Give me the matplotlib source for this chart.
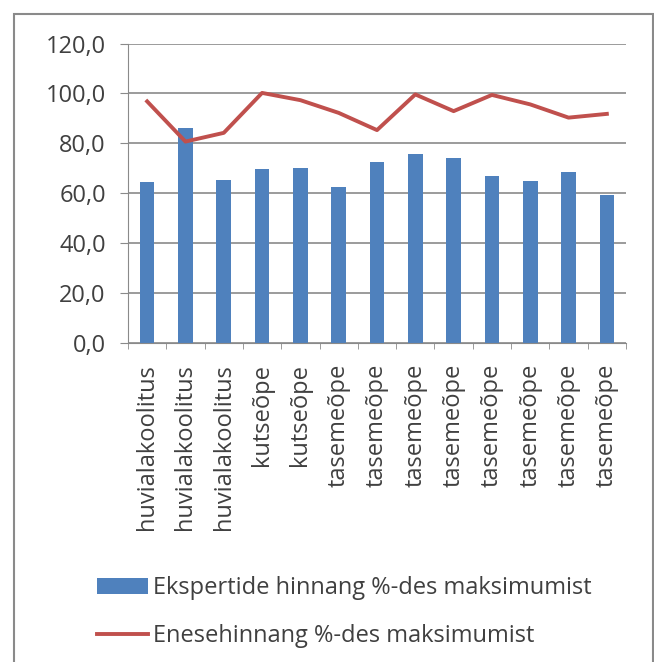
import numpy as np
import matplotlib
matplotlib.use("Agg")
import matplotlib.pyplot as plt
from matplotlib.patches import Rectangle

# andmed
kategooriad = ["huvialakoolitus", "huvialakoolitus", "huvialakoolitus",
               "kutseõpe", "kutseõpe",
               "tasemeõpe", "tasemeõpe", "tasemeõpe", "tasemeõpe",
               "tasemeõpe", "tasemeõpe", "tasemeõpe", "tasemeõpe"]
ekspertide = [64.4, 86.1, 65.5, 69.8, 70.2, 62.4, 72.7, 75.8, 74.3, 67.1, 64.9, 68.6, 59.3]
enesehinnang = [96.8, 80.7, 84.2, 100.2, 97.3, 92.2, 85.3, 99.6, 92.9, 99.4, 95.6, 90.3, 91.8]
y_ticks = [0, 20, 40, 60, 80, 100, 120]

plt.rcParams["font.family"] = ["Open Sans", "DejaVu Sans"]
tekst = "#404040"
hall = "#8a8a8a"

fig = plt.figure(figsize=(6.54, 6.62), dpi=100)
ax = fig.add_axes([128 / 654, 1 - 343 / 662, (626 - 128) / 654, (343 - 43.5) / 662])

x = np.arange(len(kategooriad))
ax.bar(x, ekspertide, width=0.38, color="#4F81BD", zorder=2,
       label="Ekspertide hinnang %-des maksimumist")
ax.plot(x, enesehinnang, color="#C0504D", linewidth=2.8, zorder=3,
        label="Enesehinnang %-des maksimumist")

ax.set_xlim(-0.5, len(kategooriad) - 0.5)
ax.set_ylim(0, 120)
ax.set_yticks(y_ticks)
ax.set_yticklabels([f"{v:.1f}".replace(".", ",") for v in y_ticks])
ax.yaxis.grid(True, color=hall, linewidth=1.2, zorder=0)
ax.set_axisbelow(True)

ax.set_xticks(x)
ax.set_xticklabels(kategooriad, rotation=90, ha="center", va="top")
ax.set_xticks(np.arange(-0.5, len(kategooriad)), minor=True)
ax.tick_params(axis="x", which="major", length=0, pad=15, labelsize=17, labelcolor=tekst)
ax.tick_params(axis="x", which="minor", length=4, color=hall, direction="out")
ax.tick_params(axis="y", length=6, color=hall, pad=10, labelsize=17, labelcolor=tekst)

for s in ["top", "right"]:
    ax.spines[s].set_visible(False)
ax.spines["left"].set_color(hall)
ax.spines["bottom"].set_color(hall)

# legend
h, l = ax.get_legend_handles_labels()
fig.legend(h[::-1], l[::-1], loc="upper left", bbox_to_anchor=(76 / 654, 1 - 555 / 662),
           frameon=False, fontsize=17, handlelength=2.15, handletextpad=0.2,
           labelspacing=1.0, labelcolor=tekst)

# raam ümber
fig.add_artist(Rectangle((14 / 654, -0.02), (653 - 14) / 654, 1.02 - 14 / 662,
                         transform=fig.transFigure, fill=False, edgecolor=hall, linewidth=1.5))

fig.savefig("out.png", dpi=100)
